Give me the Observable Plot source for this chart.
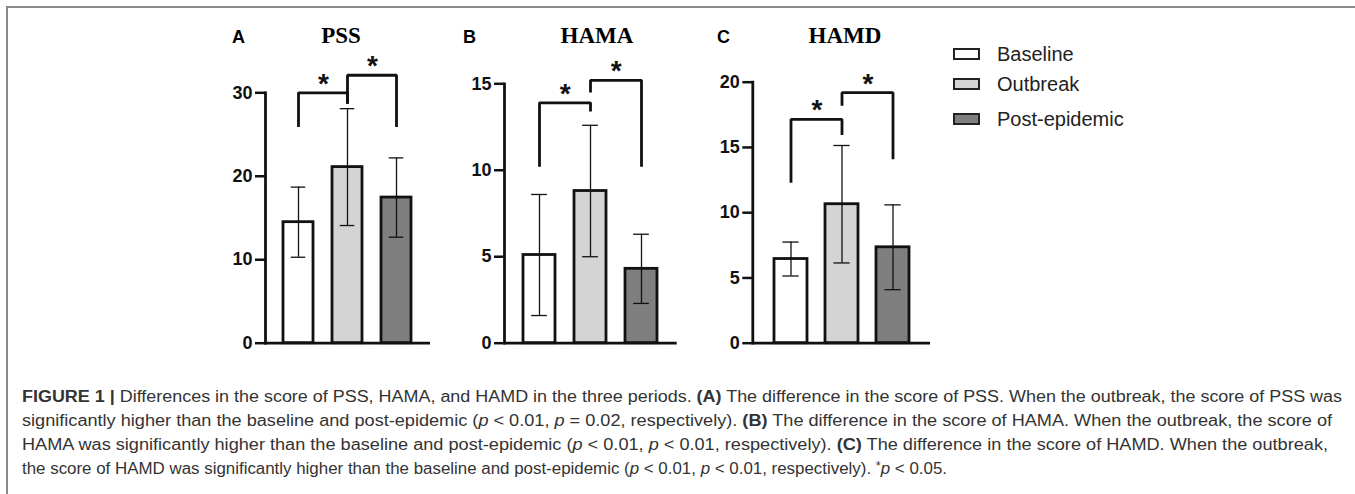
<!DOCTYPE html>
<html><head><meta charset="utf-8">
<script src="https://cdn.jsdelivr.net/npm/d3@7"></script>
<script src="https://cdn.jsdelivr.net/npm/@observablehq/plot@0.6"></script>
<style>
html,body{margin:0;padding:0;background:#fff;}
#page{position:relative;width:1355px;height:494px;overflow:hidden;background:#fff;font-family:"Liberation Sans",Arial,sans-serif;}
.frameTop{position:absolute;left:6px;top:6px;width:1349px;height:0;border-top:2px solid #8a8a8a;}
.frameLeft{position:absolute;left:6px;top:6px;width:0;height:488px;border-left:2px solid #8a8a8a;}
.panel{position:absolute;top:0;}
.panel svg{overflow:visible;}
.letter{position:absolute;font-weight:bold;font-size:18px;line-height:18px;color:#000;white-space:nowrap;}
.title{position:absolute;font-family:"Liberation Serif","Times New Roman",serif;font-weight:bold;font-size:23px;line-height:23px;color:#000;transform:translateX(-50%);white-space:nowrap;}
.leg{position:absolute;font-size:20px;line-height:20px;color:#222;white-space:nowrap;}
.sw{position:absolute;width:23px;height:8px;border:2px solid #222;}
.caption{position:absolute;left:22px;top:385px;color:#333;font-size:16px;}
.capline{white-space:nowrap;line-height:24px;height:24px;transform-origin:0 50%;width:max-content;}
.star{position:relative;top:-0.35em;font-size:0.75em;line-height:0;}
</style>
</head><body>
<div id="page">
  <div class="frameTop"></div><div class="frameLeft"></div>
</div>
<script>
// ---------------- data ----------------
const periods = ["Baseline", "Outbreak", "Post-epidemic"];
const periodColors = ["#ffffff", "#d4d4d4", "#7f7f7f"];

const pssMean = [14.5, 21.1, 17.45];
const pssSD   = [4.2, 7.0, 4.75];
const hamaMean = [5.1, 8.8, 4.3];
const hamaSD   = [3.5, 3.8, 2.0];
const hamdMean = [6.45, 10.65, 7.35];
const hamdSD   = [1.3, 4.5, 3.25];

const pssTicks  = [0, 10, 20, 30];
const hamaTicks = [0, 5, 10, 15];
const hamdTicks = [0, 5, 10, 15, 20];

const pssBrackets = [
  {from: "Baseline", to: "Outbreak", left: 25.9, top: 30.0, right: 28.7, label: "*"},
  {from: "Outbreak", to: "Post-epidemic", left: 28.7, top: 32.1, right: 25.9, label: "*"}
];
const hamaBrackets = [
  {from: "Baseline", to: "Outbreak", left: 10.2, top: 13.9, right: 13.4, label: "*"},
  {from: "Outbreak", to: "Post-epidemic", left: 14.5, top: 15.2, right: 10.2, label: "*"}
];
const hamdBrackets = [
  {from: "Baseline", to: "Outbreak", left: 12.3, top: 17.15, right: 15.95, label: "*"},
  {from: "Outbreak", to: "Post-epidemic", left: 18.2, top: 19.2, right: 14.1, label: "*"}
];

const panelLetters = ["A", "B", "C"];
const panelTitles = ["PSS", "HAMA", "HAMD"];

const captionLines = [
  '<b>FIGURE 1 |</b> Differences in the score of PSS, HAMA, and HAMD in the three periods. <b>(A)</b> The difference in the score of PSS. When the outbreak, the score of PSS was',
  'significantly higher than the baseline and post-epidemic (<i>p</i> &lt; 0.01, <i>p</i> = 0.02, respectively). <b>(B)</b> The difference in the score of HAMA. When the outbreak, the score of',
  'HAMA was significantly higher than the baseline and post-epidemic (<i>p</i> &lt; 0.01, <i>p</i> &lt; 0.01, respectively). <b>(C)</b> The difference in the score of HAMD. When the outbreak,',
  'the score of HAMD was significantly higher than the baseline and post-epidemic (<i>p</i> &lt; 0.01, <i>p</i> &lt; 0.01, respectively). <span class="star">*</span><i>p</i> &lt; 0.05.'
];

// ---------------- layout ----------------
const panels = [
  {means: pssMean, sds: pssSD, ticks: pssTicks, brackets: pssBrackets,
   left: 200, width: 240, ml: 65, mr: 10, mt: 92.3, pi: 0.38, po: 0.34,
   letterX: 232, titleX: 341},
  {means: hamaMean, sds: hamaSD, ticks: hamaTicks, brackets: hamaBrackets,
   left: 440, width: 247, ml: 64, mr: 10.3, mt: 83.3, pi: 0.365, po: 0.37,
   letterX: 463, titleX: 597},
  {means: hamdMean, sds: hamdSD, ticks: hamdTicks, brackets: hamdBrackets,
   left: 690, width: 250, ml: 62.3, mr: 10, mt: 81.7, pi: 0.355, po: 0.39,
   letterX: 717, titleX: 845}
];
const svgHeight = 360, zeroPx = 342.7;
const ink = "#111";

const page = document.getElementById("page");

panels.forEach((p, i) => {
  const rows = periods.map((k, j) => ({period: k, mean: p.means[j], sd: p.sds[j], color: periodColors[j]}));
  const pts = [];
  p.brackets.forEach((b, j) => {
    pts.push({k: j, x: b.from, y: b.left}, {k: j, x: b.from, y: b.top},
             {k: j, x: b.to, y: b.top}, {k: j, x: b.to, y: b.right});
  });
  const inner = p.width - p.ml - p.mr;
  const step = inner / (periods.length - p.pi + 2 * p.po);
  const bw = step * (1 - p.pi);
  const ymax = p.ticks[p.ticks.length - 1];

  const chart = Plot.plot({
    width: p.width, height: svgHeight,
    marginLeft: p.ml, marginRight: p.mr, marginTop: p.mt, marginBottom: svgHeight - zeroPx,
    style: {background: "transparent", overflow: "visible", fontFamily: "Liberation Sans, Arial, sans-serif", fontSize: "18px", fontWeight: "bold", color: ink},
    x: {type: "band", domain: periods, paddingInner: p.pi, paddingOuter: p.po, axis: null},
    y: {domain: [0, ymax], axis: null},
    marks: [
      Plot.barY(rows, {x: "period", y: "mean", fill: "color", stroke: ink, strokeWidth: 2.8}),
      Plot.ruleX(rows, {x: "period", y1: d => d.mean - d.sd, y2: d => d.mean + d.sd, stroke: ink, strokeWidth: 1.3}),
      Plot.tickY(rows, {x: "period", y: d => d.mean + d.sd, stroke: ink, strokeWidth: 1.3, insetLeft: bw / 4, insetRight: bw / 4}),
      Plot.tickY(rows, {x: "period", y: d => d.mean - d.sd, stroke: ink, strokeWidth: 1.3, insetLeft: bw / 4, insetRight: bw / 4}),
      Plot.line(pts, {x: "x", y: "y", z: "k", stroke: ink, strokeWidth: 2.8, strokeLinejoin: "miter", strokeLinecap: "butt"}),
      Plot.text(p.brackets, {x: "from", y: "top", text: "label", dx: step / 2, dy: 0, lineAnchor: "bottom", fontSize: 28, fontWeight: "bold", fill: ink}),
      Plot.frame({anchor: "left", stroke: ink, strokeWidth: 2.8}),
      Plot.ruleY([0], {stroke: ink, strokeWidth: 2.8}),
      Plot.axisY(p.ticks, {tickSize: 10, tickPadding: 3, stroke: ink, strokeWidth: 2.5, fill: ink})
    ]
  });
  const holder = document.createElement("div");
  holder.className = "panel";
  holder.style.left = p.left + "px";
  holder.appendChild(chart);
  page.appendChild(holder);

  const L = document.createElement("div");
  L.className = "letter"; L.textContent = panelLetters[i];
  L.style.left = p.letterX + "px"; L.style.top = "28px";
  page.appendChild(L);
  const T = document.createElement("div");
  T.className = "title"; T.textContent = panelTitles[i];
  T.style.left = p.titleX + "px"; T.style.top = "24px";
  page.appendChild(T);
});

// legend
const legTops = [54, 84, 119];
periods.forEach((k, j) => {
  const s = document.createElement("div");
  s.className = "sw"; s.style.left = "953px"; s.style.top = (legTops[j] - 6) + "px";
  s.style.background = periodColors[j];
  page.appendChild(s);
  const t = document.createElement("div");
  t.className = "leg"; t.textContent = k;
  t.style.left = "997px"; t.style.top = (legTops[j] - 10) + "px";
  page.appendChild(t);
});

// caption
const cap = document.createElement("div");
cap.className = "caption";
page.appendChild(cap);
const capWidths = [1320, 1310, 1306, 925];
captionLines.forEach((h, j) => {
  const d = document.createElement("div");
  d.className = "capline"; d.innerHTML = h;
  cap.appendChild(d);
  const w = d.getBoundingClientRect().width;
  d.style.transform = `scaleX(${capWidths[j] / w})`;
});
</script>
</body></html>
